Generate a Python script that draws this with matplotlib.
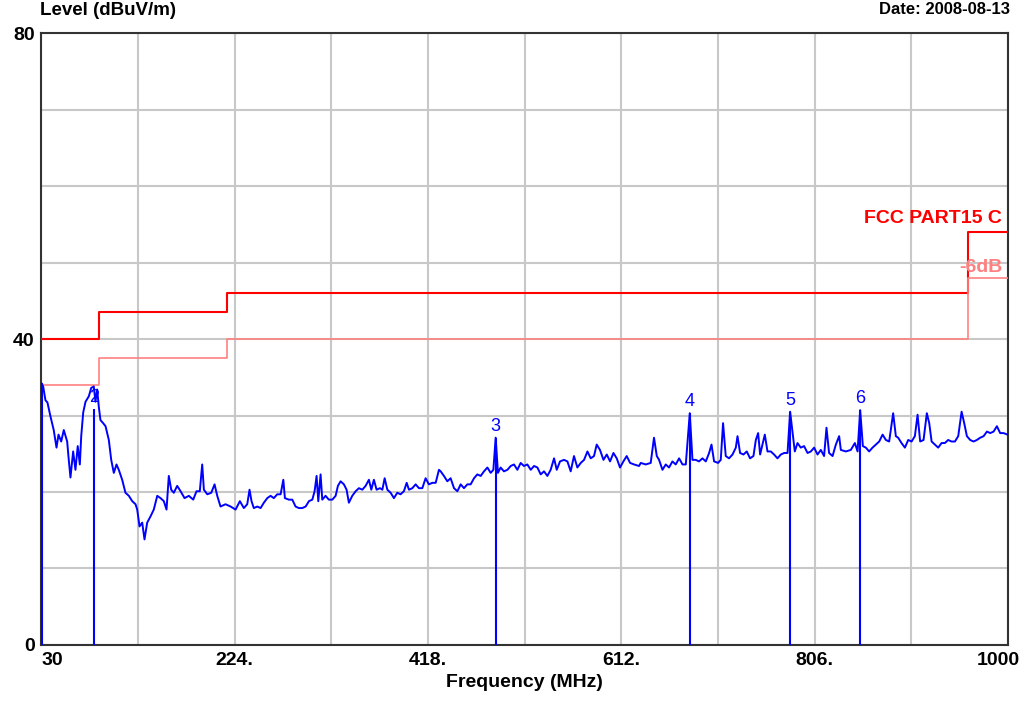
import matplotlib
matplotlib.use('Agg')
import matplotlib.pyplot as plt
from matplotlib.transforms import ScaledTranslation

plt.rcParams['font.family'] = ['Liberation Sans', 'DejaVu Sans']

# measured trace (MHz, dBuV/m)
freq = [30, 31.7, 34, 36, 39, 42.3, 45.1, 47.1, 49.8, 52.4, 55.8, 57.4, 59.1, 61.8, 64.1,
        66.4, 68.5, 69.9, 71.9, 74.2, 77.5, 79.9, 82.5, 84.2, 85.9, 87.5, 89.2, 91.9, 94.3,
        97.6, 100, 102.6, 105.3, 107.6, 111, 114.3, 117.7, 121.1, 124.4, 126.1, 128.4, 131.1,
        133.4, 136.1, 139.4, 142.7, 146.2, 149.5, 152.8, 155.5, 157.8, 160.2, 162.8, 166.2,
        169.6, 173.6, 177.9, 182.3, 185.6, 188.9, 191.3, 193, 196.4, 200.4, 203.7, 206.4,
        209.7, 214.7, 219.8, 224.8, 229.1,
        233.1, 236.5, 238.8, 240.8, 243.1, 246.6, 249.9, 253.2, 256.6, 259.9, 263.2, 266.6,
        270, 272.7, 274.3, 278.3, 281.7, 285, 288.3, 291.7, 295.1, 298.4, 301.8, 304.1, 306.1,
        307.8, 310.1, 311.8, 315.1, 318.4, 321.9, 325.2, 327.5, 330.2, 333.5, 336.2, 338.5,
        341.9, 345.3, 348.6, 352, 355.3, 358.6, 361, 363.6, 366.3, 369.7, 372.1, 374.4, 377.1,
        380.4, 383.7, 387.1, 390.4, 393.7, 396.5, 398.8, 402.2, 405.5, 408.8, 412.2, 415.5,
        418.8, 422.3, 425.6, 428.9,
        430.6, 433.9, 437.3, 440.6, 444, 447.4, 450.7, 454, 457.4, 460.7, 464.1, 467.4, 470.8,
        474.1, 477.5, 480.8, 483.5, 485.8, 488.1, 490.8, 494.1, 497.6, 500.9, 504.2, 507.6,
        510.9, 514.2, 517.6, 521, 524.3, 527.7, 531, 534.3, 537.7, 541, 544.4, 547.1, 550.4,
        554.4, 557.8, 561.1, 564.4, 567.8, 571.2, 574.5, 577.9, 581.2, 584.5, 587.2, 590.5,
        594, 597.3, 600.6, 604, 607.3, 610.6, 614, 617.3, 620.7, 624.7, 629.7,
        631.4, 636.4, 641.4, 644.7, 647.5, 649.8, 653.2, 656.5, 659.8, 663.2, 666.5, 669.9,
        673.3, 676.6, 680.6, 683.3, 686.6, 689.9, 693.3, 696.7, 700, 702.4, 705, 709, 711.7,
        714, 716.7, 720, 723.5, 726.8, 728.5, 731.1, 734.5, 737.8, 741.1, 744.5, 746.9, 749.2,
        751.2, 753.6, 755.9, 758.6, 761.9, 765.2, 768.6, 772, 775.3, 778.7, 781.3, 783.7, 786,
        788.7, 792, 795.3, 798.8, 802.1, 805.4, 808.8, 812.1, 815.4, 817.8, 820.4, 823.9,
        827.2, 830.5,
        832.2, 837.2, 842.2, 846.3, 849, 851.6, 854.3, 857.3, 860.6, 864, 867.4, 870.7, 874.1,
        877.4, 880.7, 884.7, 887.4, 889.7, 893.1, 896.5, 899.8, 903.2, 906.5, 909.2, 911.8,
        915.2, 918.5, 920.9, 923.3, 926.6, 929.9, 933.3, 936.6, 939.9, 943.3, 946.7, 950,
        953.4, 956, 958.7, 962, 965.4, 968.7, 972.1, 975.5, 978.8, 982.1, 985.5, 988.8, 992.1,
        995.5, 999.5]
level = [34.2, 33.8, 32.0, 31.7, 29.9, 28.1, 25.8, 27.5, 26.6, 28.1, 26.6, 24.2, 21.9, 25.3,
         22.9, 26.0, 23.6, 27.3, 30.4, 31.8, 32.5, 33.6, 33.8, 31.8, 33.4, 31.2, 29.4, 29.0,
         28.6, 26.8, 24.2, 22.5, 23.6, 22.9, 21.6, 19.9, 19.5, 18.8, 18.4, 17.7, 15.5, 16.0,
         13.8, 16.0, 16.8, 17.7, 19.5, 19.2, 18.8, 17.7, 22.1, 20.3, 19.9, 20.8, 20.1, 19.2,
         19.5, 19.0, 20.1, 20.1, 23.6, 20.3, 19.7, 19.9, 21.0, 19.5, 18.1, 18.4, 18.1, 17.7,
         18.8,
         17.9, 18.4, 20.3, 18.8, 17.9, 18.1, 17.9, 18.6, 19.2, 19.5, 19.2, 19.7, 19.7, 21.6,
         19.2, 19.0, 19.0, 18.1, 17.9, 17.9, 18.1, 18.8, 19.0, 20.1, 22.1, 18.8, 22.3, 19.0,
         19.5, 19.0, 19.0, 19.5, 20.8, 21.4, 21.0, 20.3, 18.6, 19.5, 20.1, 20.5, 20.3, 20.8,
         21.6, 20.3, 21.6, 20.3, 20.5, 20.3, 21.8, 20.3, 19.9, 19.2, 19.9, 19.7, 20.1, 21.2,
         20.3, 20.5, 21.0, 20.5, 20.5, 21.8, 21.0, 21.2, 21.2, 22.9,
         22.7, 22.1, 21.4, 21.8, 20.5, 20.1, 21.0, 20.5, 21.0, 21.0, 21.8, 22.3, 22.1, 22.7,
         23.2, 22.5, 22.9, 27.1, 22.5, 23.2, 22.7, 22.9, 23.4, 23.6, 22.9, 23.8, 23.4, 23.6,
         22.9, 23.4, 23.2, 22.3, 22.7, 22.1, 22.9, 24.4, 22.9, 24.0, 24.2, 24.0, 22.7, 24.7,
         23.2, 23.8, 24.2, 25.3, 24.4, 24.7, 26.2, 25.5, 24.2, 24.9, 24.0, 25.1, 24.4, 23.2,
         24.0, 24.7, 23.8, 23.6, 23.4,
         23.8, 23.6, 23.8, 27.1, 24.7, 24.2, 22.9, 23.6, 23.2, 24.0, 23.6, 24.4, 23.6, 23.6,
         30.3, 24.2, 24.2, 24.0, 24.4, 24.0, 25.1, 26.2, 24.0, 23.8, 24.2, 29.0, 24.7, 24.4,
         24.9, 25.8, 27.3, 25.1, 24.9, 25.3, 24.4, 24.7, 26.8, 27.7, 24.9, 26.2, 27.5, 25.3,
         25.3, 24.9, 24.4, 24.9, 25.1, 25.1, 30.5, 27.9, 25.3, 26.4, 25.8, 26.0, 25.1, 25.3,
         25.8, 24.9, 25.5, 24.7, 28.4, 25.1, 24.7, 26.2, 27.3,
         25.5, 25.3, 25.5, 26.4, 25.3, 30.7, 26.0, 25.8, 25.3, 25.8, 26.2, 26.6, 27.5, 26.8,
         26.6, 30.3, 27.3, 27.1, 26.4, 25.8, 26.8, 26.6, 27.3, 30.1, 26.6, 26.8, 30.3, 29.0,
         26.6, 26.2, 25.8, 26.4, 26.4, 26.8, 26.6, 26.6, 27.3, 30.5, 29.0, 27.3, 26.8, 26.6,
         26.8, 27.1, 27.3, 27.9, 27.7, 27.9, 28.6, 27.7, 27.7, 27.5]

# FCC part 15 limit and -6dB margin
limit_freq = [30, 88, 216, 960, 1000]
limit_level = [40, 43.5, 46, 54, 54]
margin_level = [34, 37.5, 40, 48, 48]

# markers
mk_freq = [30.5, 82.5, 485.8, 680.6, 781.3, 851.6]
mk_level = [34.2, 30.8, 27.1, 30.3, 30.5, 30.7]
mk_label = ['', '2', '3', '4', '5', '6']

xgrid = [30, 127, 224, 321, 418, 515, 612, 709, 806, 903, 1000]
xlabels = ['30', '', '224.', '', '418.', '', '612.', '', '806.', '', '1000']
ygrid = [0, 10, 20, 30, 40, 50, 60, 70, 80]
ylabels = ['0', '', '', '', '40', '', '', '', '80']

fig = plt.figure(figsize=(10.34, 7.01), dpi=100)
ax = fig.add_axes([0.0401, 0.0799, 0.9348, 0.873])

ax.step(limit_freq, limit_level, where='post', color='#ff0000', lw=1.5, zorder=3)
ax.step(limit_freq, margin_level, where='post', color='#ff8080', lw=1.2, zorder=3)
ax.plot(freq, level, color='#0000ff', lw=1.4, zorder=4)
ax.vlines(mk_freq, 0, mk_level, color='#0000ff', lw=1.5, zorder=5)
for f, l, t in zip(mk_freq, mk_level, mk_label):
    ax.text(f, l + 0.4, t, color='#0000ff', fontsize=13, ha='center', va='bottom', zorder=6)

ax.text(994, 55.8, 'FCC PART15 C', color='#ff0000', fontsize=14, fontweight='bold',
        ha='right', va='center')
ax.text(994, 49.4, '-6dB', color='#ff8080', fontsize=14, fontweight='bold',
        ha='right', va='center')

ax.set_xlim(30, 1000)
ax.set_ylim(0, 80)
ax.set_xticks(xgrid)
ax.set_xticklabels(xlabels, fontsize=14, fontweight='bold')
ax.set_yticks(ygrid)
ax.set_yticklabels(ylabels, fontsize=14, fontweight='bold')
ax.tick_params(length=0, pad=5)
ax.get_xticklabels()[0].set_ha('left')
last = ax.get_xticklabels()[-1]
last.set_transform(last.get_transform() + ScaledTranslation(-7 / 72, 0, fig.dpi_scale_trans))
ax.grid(color='#c8c8c8', lw=1.5, zorder=0)
ax.set_axisbelow(True)
for s in ax.spines.values():
    s.set_color('#333333')
    s.set_linewidth(1.5)

ax.set_xlabel('Frequency (MHz)', fontsize=14, fontweight='bold', labelpad=4)
fig.text(40 / 1034, 1 - 2 / 701, 'Level (dBuV/m)', fontsize=13.5, fontweight='bold',
         ha='left', va='top')
fig.text(1010 / 1034, 1 - 2 / 701, 'Date: 2008-08-13', fontsize=12, fontweight='bold',
         ha='right', va='top')

fig.savefig('out.png', dpi=100)
